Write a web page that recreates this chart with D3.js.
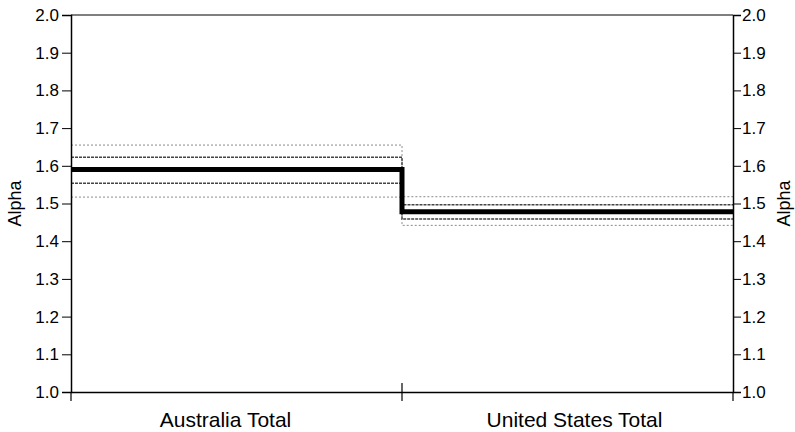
<!DOCTYPE html>
<html>
<head>
<meta charset="utf-8">
<script src="https://d3js.org/d3.v7.min.js"></script>
<style>
body { margin: 0; background: #fff; }
text { font-family: "Liberation Sans", Arial, sans-serif; fill: #000; }
</style>
</head>
<body>
<svg id="chart" width="795" height="432"></svg>
<script>
// values
var categories = ["Australia Total", "United States Total"];
var alpha      = [1.590, 1.478];
var innerHigh  = [1.623, 1.497];
var innerLow   = [1.554, 1.459];
var outerHigh  = [1.655, 1.518];
var outerLow   = [1.517, 1.442];
var yTicks     = [1.0, 1.1, 1.2, 1.3, 1.4, 1.5, 1.6, 1.7, 1.8, 1.9, 2.0];

var svg = d3.select("#chart");
var pLeft = 71, pRight = 733, pTop = 15, pBottom = 392;

var x = d3.scaleBand().domain(categories).range([pLeft, pRight]).padding(0);
var y = d3.scaleLinear().domain([1.0, 2.0]).range([pBottom, pTop]);

// step line across the categories
var line = d3.line().x(function(d) { return d[0]; }).y(function(d) { return y(d[1]); })
    .curve(d3.curveStepAfter);
function steps(vals) {
  var pts = categories.map(function(c, i) { return [x(c), vals[i]]; });
  pts.push([pRight, vals[vals.length - 1]]);
  return pts;
}

var series = [
  {v: outerHigh, stroke: "#8a8a8a", w: 1, dash: "2,2"},
  {v: outerLow,  stroke: "#8a8a8a", w: 1, dash: "2,2"},
  {v: innerHigh, stroke: "#444",    w: 1.5, dash: "3,1"},
  {v: innerLow,  stroke: "#444",    w: 1.5, dash: "3,1"},
  {v: alpha,     stroke: "#000",    w: 5, dash: null}
];

svg.selectAll(".s").data(series).enter().append("path")
  .attr("class", "s")
  .attr("fill", "none")
  .attr("stroke", function(d) { return d.stroke; })
  .attr("stroke-width", function(d) { return d.w; })
  .attr("stroke-dasharray", function(d) { return d.dash; })
  .attr("d", function(d) { return line(steps(d.v)); });

// frame
svg.append("line").attr("x1", pLeft).attr("x2", pRight).attr("y1", pTop).attr("y2", pTop)
  .attr("stroke", "#000").attr("stroke-width", 1);

var fmt = d3.format(".1f");
var yl = svg.append("g").attr("transform", "translate(" + pLeft + ",0)")
  .call(d3.axisLeft(y).tickValues(yTicks).tickFormat(fmt).tickSize(9).tickPadding(3));
var yr = svg.append("g").attr("transform", "translate(" + pRight + ",0)")
  .call(d3.axisRight(y).tickValues(yTicks).tickFormat(fmt).tickSize(8).tickPadding(1));
[yl, yr].forEach(function(g) {
  g.select(".domain").attr("stroke", "#000").attr("stroke-width", 1.5);
  g.selectAll("text").style("font-size", "17px");
});

// x axis: labels under each category, ticks at category boundaries
var labelShift = [-11, 7];
var xa = svg.append("g").attr("transform", "translate(0," + pBottom + ")")
  .call(d3.axisBottom(x).tickSize(0).tickPadding(0));
xa.select(".domain").attr("stroke", "#000").attr("stroke-width", 1.5);
xa.selectAll("text").attr("dy", null).attr("y", 35)
  .attr("dx", function(d, i) { return labelShift[i]; })
  .style("font-size", "21px");

var bounds = categories.map(function(c) { return x(c); }).concat([pRight]);
svg.selectAll(".xt").data(bounds).enter().append("line")
  .attr("x1", function(d) { return d; }).attr("x2", function(d) { return d; })
  .attr("y1", function(d, i) { return i === 1 ? pBottom - 9 : pBottom; })
  .attr("y2", pBottom + 9)
  .attr("stroke", "#000").attr("stroke-width", 1.2);

svg.append("text").attr("transform", "translate(21," + ((pTop + pBottom) / 2) + ") rotate(-90)")
  .attr("text-anchor", "middle").style("font-size", "18px").text("Alpha");
svg.append("text").attr("transform", "translate(790," + ((pTop + pBottom) / 2) + ") rotate(-90)")
  .attr("text-anchor", "middle").style("font-size", "18px").text("Alpha");
</script>
</body>
</html>
